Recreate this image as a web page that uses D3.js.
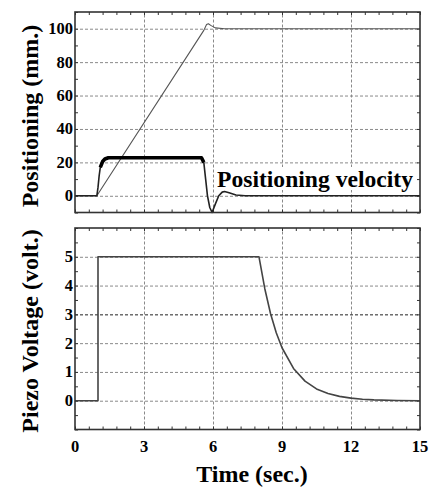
<!DOCTYPE html>
<html lang="en">
  <head>
    <meta charset="utf-8">
    <title>Positioning and Piezo Voltage</title>
    <script src="https://d3js.org/d3.v7.min.js"></script>
    <style type="text/css">
      body {
        margin: 0;
        background-color: #FFFFFF;
        font-family: 'Liberation Serif', 'Times New Roman', serif;
      }
      .grid line {
        stroke: #8a8a8a;
        stroke-width: 1;
        stroke-dasharray: 3,2;
      }
      .grid path { stroke-width: 0; }
      .minor path { stroke-width: 0; }
      .minor line { stroke: #333; stroke-width: 1; }
      .frame {
        fill: none;
        stroke: #333;
        stroke-width: 1.6;
      }
      .label {
        font-weight: bold;
        fill: #000;
      }
    </style>
  </head>
  <body>
  <script type="text/javascript">
    // Data
    var xTicks = [0, 3, 6, 9, 12, 15],
        posTicks = [0, 20, 40, 60, 80, 100],
        voltTicks = [0, 1, 2, 3, 4, 5];

    var posTime = [0, 0.95, 5.6, 5.72, 5.8, 5.9, 6.1, 6.5, 15],
        posValue = [0, 0, 99, 102.5, 103, 102, 100.5, 100, 100];

    var velTime = [0, 0.95, 1.0, 1.05, 1.1, 1.2, 1.3, 1.45, 5.5, 5.6, 5.68, 5.76, 5.86, 5.96, 6.1, 6.25, 6.4, 6.5, 6.7, 7.0, 7.4, 15],
        velValue = [0, 0, 5, 12, 17, 20.5, 22, 22.8, 22.8, 20, 10, 0, -7, -10, -5, 0, 2.2, 2.6, 1.8, 0.5, 0, 0];

    var voltTime = [0, 1, 1, 8, 8.25, 8.5, 8.75, 9, 9.5, 10, 10.5, 11, 11.5, 12, 12.5, 13, 14, 15],
        voltValue = [0, 0, 5, 5, 3.9, 3.03, 2.36, 1.84, 1.12, 0.68, 0.41, 0.25, 0.15, 0.09, 0.05, 0.03, 0.01, 0];

    var W = 430, H = 489;
    var left = 75, right = 420;

    var svg = d3.select("body").append("svg")
        .attr("width", W)
        .attr("height", H);

    var xScale = d3.scaleLinear().domain([0, 15]).range([left, right]);
    var yPos = d3.scaleLinear().domain([-10, 110]).range([212.5, 12]);
    var yVolt = d3.scaleLinear().domain([-1, 6]).range([429.5, 228]);

    var xMinor = d3.range(0, 15.001, 0.6);

    function panel(yScale, majors, minorStep, dark) {
      var y0 = yScale.range()[0], y1 = yScale.range()[1];
      var dom = yScale.domain();
      var g = svg.append("g");

      // grid
      g.append("g")
          .attr("class", "grid")
          .attr("transform", "translate(0," + y0 + ")")
          .call(d3.axisBottom(xScale).tickValues([3, 6, 9, 12]).tickSize(-(y0 - y1)).tickFormat(""));
      g.append("g")
          .attr("class", "grid")
          .attr("transform", "translate(" + left + ",0)")
          .call(d3.axisLeft(yScale).tickValues(majors).tickSize(-(right - left)).tickFormat(""))
        .selectAll("line")
          .style("stroke", function(d) { return d === dark ? "#222" : null; });

      // inward ticks
      var yMinor = d3.range(Math.ceil(dom[0] / minorStep) * minorStep, dom[1] + 1e-6, minorStep);
      g.append("g").attr("class", "minor")
          .attr("transform", "translate(0," + y0 + ")")
          .call(d3.axisBottom(xScale).tickValues(xMinor).tickSize(-3).tickFormat(""));
      g.append("g").attr("class", "minor")
          .attr("transform", "translate(0," + y1 + ")")
          .call(d3.axisTop(xScale).tickValues(xMinor).tickSize(-3).tickFormat(""));
      g.append("g").attr("class", "minor")
          .attr("transform", "translate(" + left + ",0)")
          .call(d3.axisLeft(yScale).tickValues(yMinor).tickSize(-3).tickFormat(""));
      g.append("g").attr("class", "minor")
          .attr("transform", "translate(" + right + ",0)")
          .call(d3.axisRight(yScale).tickValues(yMinor).tickSize(-3).tickFormat(""));

      // tick labels
      g.selectAll(".ylab")
          .data(majors)
        .enter().append("text")
          .attr("class", "label")
          .attr("x", left - 2)
          .attr("y", function(d) { return yScale(d) + 5.5; })
          .attr("text-anchor", "end")
          .style("font-size", "16.5px")
          .text(function(d) { return d; });

      return g;
    }

    var topPanel = panel(yPos, posTicks, 10, null);
    var botPanel = panel(yVolt, voltTicks, 0.5, 3);

    function series(g, pts, yScale, color, width) {
      g.append("path")
          .datum(pts)
          .attr("fill", "none")
          .attr("stroke", color)
          .attr("stroke-width", width)
          .attr("stroke-linejoin", "round")
          .attr("d", d3.line()
              .x(function(d) { return xScale(d[0]); })
              .y(function(d) { return yScale(d[1]); }));
    }
    function zip(xs, ys) {
      return xs.map(function(t, i) { return [t, ys[i]]; });
    }

    var velPts = zip(velTime, velValue);
    series(topPanel, zip(posTime, posValue), yPos, "#555", 1.1);
    series(topPanel, velPts, yPos, "#222", 1.6);
    // the plateau is drawn heavier in the original
    series(topPanel, velPts.filter(function(d) { return d[0] >= 1.1 && d[0] <= 5.6; }), yPos, "#000", 3.6);
    series(botPanel, zip(voltTime, voltValue), yVolt, "#444", 1.6);

    // annotation
    topPanel.append("rect")
        .attr("x", 215).attr("y", 167)
        .attr("width", 200).attr("height", 23)
        .attr("fill", "#fff");
    topPanel.append("text")
        .attr("class", "label")
        .attr("x", 217)
        .attr("y", 187)
        .style("font-size", "23.6px")
        .text("Positioning velocity");

    // frames
    [yPos, yVolt].forEach(function(s) {
      svg.append("rect")
          .attr("class", "frame")
          .attr("x", left)
          .attr("y", s.range()[1])
          .attr("width", right - left)
          .attr("height", s.range()[0] - s.range()[1]);
    });

    // x tick labels
    svg.selectAll(".xlab")
        .data(xTicks)
      .enter().append("text")
        .attr("class", "label")
        .attr("x", function(d) { return xScale(d); })
        .attr("y", 452)
        .attr("text-anchor", "middle")
        .style("font-size", "16.5px")
        .text(function(d) { return d; });

    // axis titles
    svg.append("text")
        .attr("class", "label")
        .attr("transform", "translate(38," + 116 + ") rotate(-90)")
        .attr("text-anchor", "middle")
        .style("font-size", "24px")
        .text("Positioning (mm.)");

    svg.append("text")
        .attr("class", "label")
        .attr("transform", "translate(38," + 331 + ") rotate(-90)")
        .attr("text-anchor", "middle")
        .style("font-size", "24px")
        .text("Piezo Voltage (volt.)");

    svg.append("text")
        .attr("class", "label")
        .attr("x", 252)
        .attr("y", 482)
        .attr("text-anchor", "middle")
        .style("font-size", "24px")
        .text("Time (sec.)");
  </script>
  </body>
</html>
